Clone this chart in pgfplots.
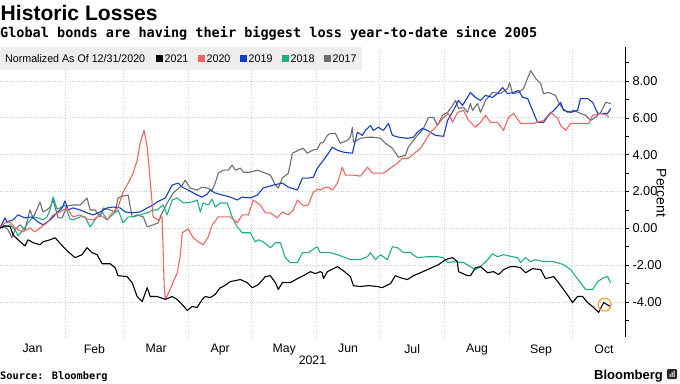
\documentclass[border=0pt]{standalone}
\usepackage{pgfplots}
\pgfplotsset{compat=1.18}
\usepackage{fontspec}
\setmainfont{Liberation Sans}
\newfontfamily\monofont{DejaVu Sans Mono}
\definecolor{c21}{RGB}{0,0,0}
\definecolor{c20}{RGB}{240,100,100}
\definecolor{c19}{RGB}{20,60,205}
\definecolor{c18}{RGB}{30,175,135}
\definecolor{c17}{RGB}{110,110,110}
\definecolor{gridc}{RGB}{205,205,205}
\definecolor{legbg}{RGB}{238,238,238}
\definecolor{circ}{RGB}{245,165,40}
\newcommand{\legtext}[1]{\scalebox{0.97}[1]{\fontsize{11}{13}\selectfont #1}}
\begin{document}
\begin{tikzpicture}[x=1pt,y=1pt]
\useasboundingbox (0,0) rectangle (680,383);
\begin{axis}[
  at={(0pt,46pt)}, anchor=south west, scale only axis,
  width=625pt, height=290pt,
  xmin=0, xmax=298, ymin=-5.9, ymax=9.85,
  axis x line*=bottom, x axis line style={draw=none},
  axis y line*=right, y axis line style={black, line width=0.8pt},
  xtick={15.5,45,74.5,105,135.5,166,196.5,227.5,258,288},
  xticklabels={Jan,Feb,Mar,Apr,May,Jun,Jul,Aug,Sep,Oct},
  minor xtick={31,59,90,120,151,181,212,243,273},
  xminorgrids=true, xmajorgrids=false,
  ytick={-4,-2,0,2,4,6,8}, minor ytick={-5,-3,-1,1,3,5,7,9},
  ymajorgrids=true,
  grid style={gridc, dotted, line width=0.8pt},
  minor grid style={gridc, dotted, line width=0.8pt},
  xtick style={draw=none},
  tick align=outside, major tick length=4pt, minor tick length=4pt,
  ytick style={black, line width=0.6pt},
  yticklabel style={font=\fontsize{12.8}{14}\selectfont, anchor=west},
  xticklabel style={font=\fontsize{12.3}{14}\selectfont},
  /pgf/number format/fixed, /pgf/number format/fixed zerofill,
  /pgf/number format/precision=2, /pgf/number format/assume math mode=true,
  ylabel={Percent},
  every axis y label/.style={at={(axis description cs:1.058,0.497)}, rotate=-90, anchor=center, font=\fontsize{14}{16}\selectfont},
  xlabel={2021},
  every axis x label/.style={at={(axis description cs:0.5,0)}, anchor=center, yshift=-23pt, font=\fontsize{12.3}{14}\selectfont},
  every axis plot/.append style={line width=1.1pt, line join=round, mark=none},
]
% 2017
\addplot[c17] coordinates {
(0,0.03)(1.4,0.19)(3.8,-0.08)(5.7,-0.51)(7.2,-0.08)(9.5,0.19)(11.9,-0.08)(14.3,1.00)(15.8,0.57)(19.1,1.43)(20.5,0.89)(22.4,1.00)(23.9,1.16)(25.3,1.54)(27.7,0.57)(29.6,0.57)(32.0,1.22)(34.8,1.27)(38.2,1.27)(41.5,1.65)(43.0,1.00)(45.3,1.00)(47.7,0.62)(49.2,1.11)(52.5,1.00)(54.9,0.89)(56.3,1.65)(58.7,1.76)(61.1,1.81)(63.0,0.62)(65.4,0.73)(68.3,0.62)(70.2,0.08)(73.0,0.19)(75.4,0.30)(76.4,0.62)(79.7,1.38)(82.6,1.92)(86.9,2.35)(88.3,2.62)(90.7,2.19)(94.0,2.08)(96.4,2.24)(98.8,2.19)(101.2,2.08)(102.6,2.46)(104.1,3.00)(106.4,3.16)(108.8,3.16)(110.7,3.43)(112.2,3.16)(114.6,3.27)(116.0,3.05)(119.3,3.05)(122.7,3.16)(126.5,3.00)(128.9,2.89)(131.3,2.35)(132.7,2.19)(134.6,2.73)(137.5,3.00)(139.4,4.08)(142.2,4.24)(144.6,4.35)(146.5,4.08)(148.9,4.24)(151.3,4.30)(152.7,4.62)(154.2,4.68)(156.1,5.05)(157.5,5.16)(159.9,5.16)(162.3,4.62)(165.6,4.78)(167.1,4.95)(168.0,5.49)(168.5,4.68)(171.8,4.89)(175.2,4.95)(178.0,4.95)(181.4,4.89)(183.8,4.62)(187.1,4.35)(190.0,3.86)(193.3,3.97)(194.7,4.41)(197.1,4.78)(199.0,5.05)(201.9,5.43)(204.3,6.03)(206.7,6.03)(208.6,5.59)(211.0,6.14)(213.4,6.30)(215.8,6.68)(217.2,6.95)(218.6,6.51)(221.0,6.57)(222.9,6.30)(224.3,6.78)(225.3,6.41)(227.7,6.78)(229.1,6.30)(231.5,6.95)(234.8,7.38)(238.7,7.32)(242.0,7.59)(243.0,7.92)(244.4,7.32)(247.3,7.38)(249.6,7.59)(253.0,8.57)(255.4,8.14)(257.8,7.86)(259.2,7.32)(261.6,7.38)(264.9,7.22)(266.3,6.84)(268.3,6.51)(270.6,6.30)(273.5,6.41)(276.8,6.24)(279.2,6.14)(281.6,5.86)(284.0,6.03)(286.4,6.30)(288.8,6.84)(291.2,6.78)
};
% 2018
\addplot[c18] coordinates {
(0,0.03)(2.4,0.08)(4.8,0.19)(7.2,-0.08)(8.6,-0.41)(11.0,-0.08)(13.4,0.30)(15.8,0.62)(18.1,0.57)(20.5,0.46)(22.4,0.62)(23.9,1.00)(25.3,1.70)(27.2,1.05)(28.6,1.11)(31.0,1.27)(33.4,0.51)(34.8,0.46)(38.2,0.62)(40.6,0.62)(43.0,0.08)(46.3,0.62)(48.7,0.89)(51.1,0.46)(53.5,0.73)(56.3,1.00)(58.7,0.30)(61.1,0.62)(63.5,0.62)(66.8,0.73)(70.2,0.84)(73.0,1.00)(74.9,1.00)(77.8,1.27)(79.7,0.73)(82.1,1.54)(84.5,1.65)(87.4,1.38)(91.6,1.43)(94.0,1.54)(95.5,0.89)(96.9,1.38)(99.3,1.27)(101.2,1.59)(102.6,1.16)(105.0,1.38)(108.4,1.38)(110.7,0.62)(113.1,0.08)(115.5,-0.24)(119.3,-0.24)(121.7,-0.73)(123.2,-0.62)(125.5,-0.73)(128.9,-1.05)(131.3,-0.78)(133.7,-0.78)(136.0,-1.59)(138.4,-1.86)(141.8,-1.86)(144.2,-1.32)(147.0,-1.32)(150.4,-1.05)(151.3,-1.00)(152.7,-1.32)(157.5,-1.32)(160.9,-1.43)(167.1,-1.70)(171.8,-1.70)(175.2,-1.54)(176.6,-1.32)(179.0,-1.70)(181.4,-1.43)(184.7,-1.70)(187.1,-1.00)(189.5,-1.05)(192.4,-1.32)(195.7,-1.32)(199.0,-1.59)(203.8,-1.54)(208.6,-1.54)(211.5,-1.59)(213.4,-1.86)(216.2,-1.81)(221.0,-1.86)(224.3,-2.08)(226.7,-2.24)(229.1,-2.08)(232.5,-1.70)(234.8,-1.38)(237.2,-1.54)(240.1,-1.43)(244.4,-1.54)(246.8,-1.59)(248.2,-1.86)(250.6,-1.59)(253.0,-1.81)(255.4,-1.70)(259.2,-1.81)(264.0,-1.81)(268.7,-1.97)(272.1,-2.24)(274.5,-2.62)(276.8,-2.95)(279.2,-3.32)(282.6,-3.32)(285.0,-2.89)(287.8,-2.68)(289.7,-2.62)(291.2,-2.95)
};
% 2019
\addplot[c19] coordinates {
(0,0.03)(2.4,0.57)(3.3,0.35)(6.2,0.46)(8.6,0.73)(11.9,0.57)(15.3,0.62)(18.1,0.35)(20.5,0.19)(23.9,0.46)(27.2,0.84)(29.6,1.11)(31.0,1.49)(32.5,1.00)(34.8,1.11)(38.2,1.00)(41.5,0.84)(44.4,0.73)(47.7,0.89)(51.1,1.11)(53.9,1.16)(57.3,1.11)(59.7,0.89)(63.0,0.84)(66.8,0.89)(70.2,1.11)(73.0,1.27)(74.9,1.43)(78.8,1.65)(82.1,2.35)(85.0,2.46)(86.9,2.24)(89.7,2.08)(94.0,1.81)(96.4,1.70)(98.8,1.86)(100.2,2.08)(102.6,1.92)(106.0,1.81)(109.8,1.70)(113.1,1.54)(115.5,1.70)(119.3,1.65)(122.7,1.81)(125.5,2.19)(130.3,2.35)(134.6,2.46)(137.5,2.24)(141.8,2.08)(144.2,2.73)(147.0,2.73)(149.4,2.78)(151.3,3.27)(154.2,3.70)(156.6,4.08)(158.5,4.41)(160.9,4.24)(163.7,4.14)(168.0,4.08)(170.4,5.22)(172.8,5.05)(174.2,5.32)(176.6,5.59)(178.0,5.32)(180.4,5.49)(182.8,5.32)(185.2,5.70)(187.1,5.05)(190.0,4.95)(194.3,4.89)(197.1,4.95)(199.0,5.22)(201.4,5.43)(203.8,5.32)(207.6,5.05)(211.5,5.00)(213.4,5.86)(216.2,6.41)(218.6,6.95)(220.5,6.68)(222.0,6.95)(224.3,7.38)(226.7,7.11)(229.1,6.95)(231.5,7.22)(234.8,7.11)(237.2,7.32)(239.6,7.65)(242.0,7.32)(244.9,7.38)(247.3,7.49)(249.2,7.11)(251.6,7.05)(253.9,6.41)(256.3,5.76)(259.2,5.76)(261.6,6.14)(264.9,6.51)(267.3,6.84)(268.7,6.41)(272.1,6.30)(275.4,6.41)(276.8,7.05)(280.2,7.05)(282.6,6.84)(285.0,6.24)(287.8,6.24)(289.7,6.24)(291.2,6.51)
};
% 2020
\addplot[c20] coordinates {
(0,0.03)(2.4,0.30)(4.8,0.35)(6.2,0.14)(8.6,-0.08)(11.0,-0.19)(14.3,0.03)(16.7,-0.19)(19.1,0.03)(22.4,0.30)(25.3,0.73)(28.6,0.89)(32.0,1.11)(34.8,0.62)(38.2,0.73)(41.5,0.51)(44.4,0.46)(47.7,0.73)(51.1,0.46)(53.5,0.84)(56.3,1.16)(58.7,1.97)(61.1,2.46)(63.5,3.00)(65.4,3.70)(66.8,4.62)(68.7,5.32)(70.2,4.41)(71.6,2.62)(72.6,1.27)(73.0,0.62)(75.4,0.46)(77.3,0.62)(78.3,-3.16)(78.8,-3.86)(81.1,-3.32)(84.5,-2.41)(85.9,-1.54)(86.9,-0.24)(89.7,-0.03)(92.1,-0.51)(94.5,-0.73)(96.9,-0.89)(99.3,-0.46)(101.2,0.19)(104.1,0.62)(106.4,0.62)(109.8,0.62)(113.1,0.30)(115.5,0.73)(118.4,0.73)(120.8,1.54)(124.1,1.27)(126.5,0.84)(128.9,0.84)(132.2,0.57)(134.6,0.89)(137.5,0.73)(139.9,1.00)(141.8,1.54)(144.6,1.22)(147.0,1.27)(149.4,1.97)(151.8,2.14)(152.7,2.08)(154.2,2.19)(156.6,2.24)(158.5,2.08)(160.9,2.46)(163.2,3.32)(164.7,2.89)(168.5,2.89)(171.8,2.84)(175.2,3.32)(177.6,3.00)(182.8,3.00)(186.2,3.27)(189.5,3.54)(191.9,3.81)(194.7,3.81)(197.1,4.03)(200.5,4.35)(202.9,4.78)(205.3,5.22)(208.6,5.59)(211.5,6.03)(213.8,6.24)(215.8,5.76)(218.1,6.30)(221.0,6.41)(223.4,5.86)(226.7,5.49)(229.1,5.76)(231.5,6.14)(233.9,5.76)(237.2,5.76)(240.1,5.32)(242.5,6.03)(244.9,6.24)(248.2,5.70)(254.4,5.70)(259.2,5.86)(262.5,6.30)(265.9,5.97)(267.3,5.59)(269.7,5.32)(272.1,5.70)(276.8,5.70)(280.7,5.70)(282.6,6.14)(286.4,6.24)(289.7,6.14)(290.2,6.03)
};
% 2021
\addplot[c21] coordinates {
(0,0.01)(2.4,0.14)(4.8,0.10)(6.2,-0.35)(8.6,-0.62)(11.9,-0.95)(13.4,-0.62)(15.8,-0.78)(19.1,-0.89)(20.5,-0.73)(23.9,-0.62)(26.3,-0.51)(30.1,-1.00)(32.5,-1.27)(35.8,-1.59)(39.1,-1.43)(41.5,-1.05)(43.9,-1.32)(46.3,-1.43)(48.7,-1.92)(52.5,-1.92)(54.9,-2.14)(56.3,-2.57)(60.6,-2.62)(63.0,-2.95)(65.4,-3.70)(67.8,-3.97)(70.2,-3.22)(71.6,-3.70)(74.9,-3.70)(78.8,-3.86)(82.1,-3.70)(84.5,-3.86)(86.9,-4.14)(89.3,-4.46)(91.6,-4.24)(94.0,-4.30)(96.4,-3.86)(97.9,-3.70)(100.2,-3.76)(102.6,-3.59)(105.0,-3.22)(106.4,-3.16)(109.8,-2.89)(114.6,-2.78)(117.9,-2.95)(120.3,-3.22)(123.2,-3.05)(126.5,-2.62)(128.9,-2.57)(131.3,-2.95)(132.7,-3.32)(134.6,-2.95)(138.4,-2.95)(141.8,-2.73)(145.6,-2.51)(148.0,-2.35)(150.4,-2.46)(152.7,-2.35)(153.7,-2.41)(154.2,-2.73)(156.1,-2.35)(160.9,-2.08)(163.7,-2.30)(167.1,-2.62)(168.5,-3.11)(171.8,-3.16)(175.7,-3.11)(180.0,-3.16)(182.3,-3.22)(186.2,-3.00)(188.5,-2.57)(190.9,-2.68)(194.3,-2.78)(197.1,-2.57)(200.5,-2.41)(203.8,-2.24)(209.1,-1.97)(212.4,-1.70)(215.8,-1.59)(218.1,-1.81)(218.6,-2.35)(222.9,-2.57)(224.3,-2.57)(226.7,-2.14)(229.1,-2.08)(232.5,-2.41)(235.3,-2.35)(237.7,-2.51)(240.1,-2.24)(243.4,-2.08)(245.8,-2.08)(248.2,-2.14)(250.6,-2.41)(253.9,-2.19)(257.8,-2.24)(260.1,-2.73)(264.0,-2.62)(266.3,-2.95)(268.7,-3.32)(271.1,-3.70)(273.0,-4.03)(275.4,-3.70)(277.8,-3.70)(280.2,-4.03)(283.1,-4.30)(285.4,-4.57)(287.8,-4.03)(290.2,-4.19)(291.2,-4.24)
};
% highlight of latest value
\addplot[only marks, mark=o, mark size=6.5pt, circ, line width=1.2pt] coordinates {(288.3,-4.14)};
\end{axis}
% titles
\node[anchor=base west, inner sep=0] at (0.5,362) {\resizebox{157pt}{!}{\fontsize{20}{24}\selectfont\bfseries Historic Losses}};
\node[anchor=base west, inner sep=0] at (0,345.5) {\resizebox{537pt}{!}{\monofont\bfseries\fontsize{13.5}{16}\selectfont Global bonds are having their biggest loss year-to-date since 2005}};
% legend
\fill[legbg] (0,313) rectangle (362,336);
\node[anchor=west, inner sep=0] at (5,324.5) {\legtext{Normalized As Of 12/31/2020}};
\foreach \xx/\cc/\yy in {156/c21/2021,198/c20/2020,240/c19/2019,282/c18/2018,324/c17/2017}{
  \fill[\cc] (\xx,321) rectangle (\xx+7,328);
  \node[anchor=west, inner sep=0] at (\xx+8.5,324.5) {\legtext{\yy}};
}
% footer
\node[anchor=base west, inner sep=0] at (0,4) {\monofont\bfseries\fontsize{10.3}{12}\selectfont Source: Bloomberg};
\node[anchor=base west, inner sep=0] at (594,3.5) {\fontsize{13}{15}\selectfont\bfseries Bloomberg};
\fill[black!85, rounded corners=1.2pt] (667,4) rectangle (677,14);
\fill[white] (669.5,6) rectangle (670.5,9) (671.5,6) rectangle (672.5,11) (673.5,6) rectangle (674.5,12.5);
\end{tikzpicture}
\end{document}
